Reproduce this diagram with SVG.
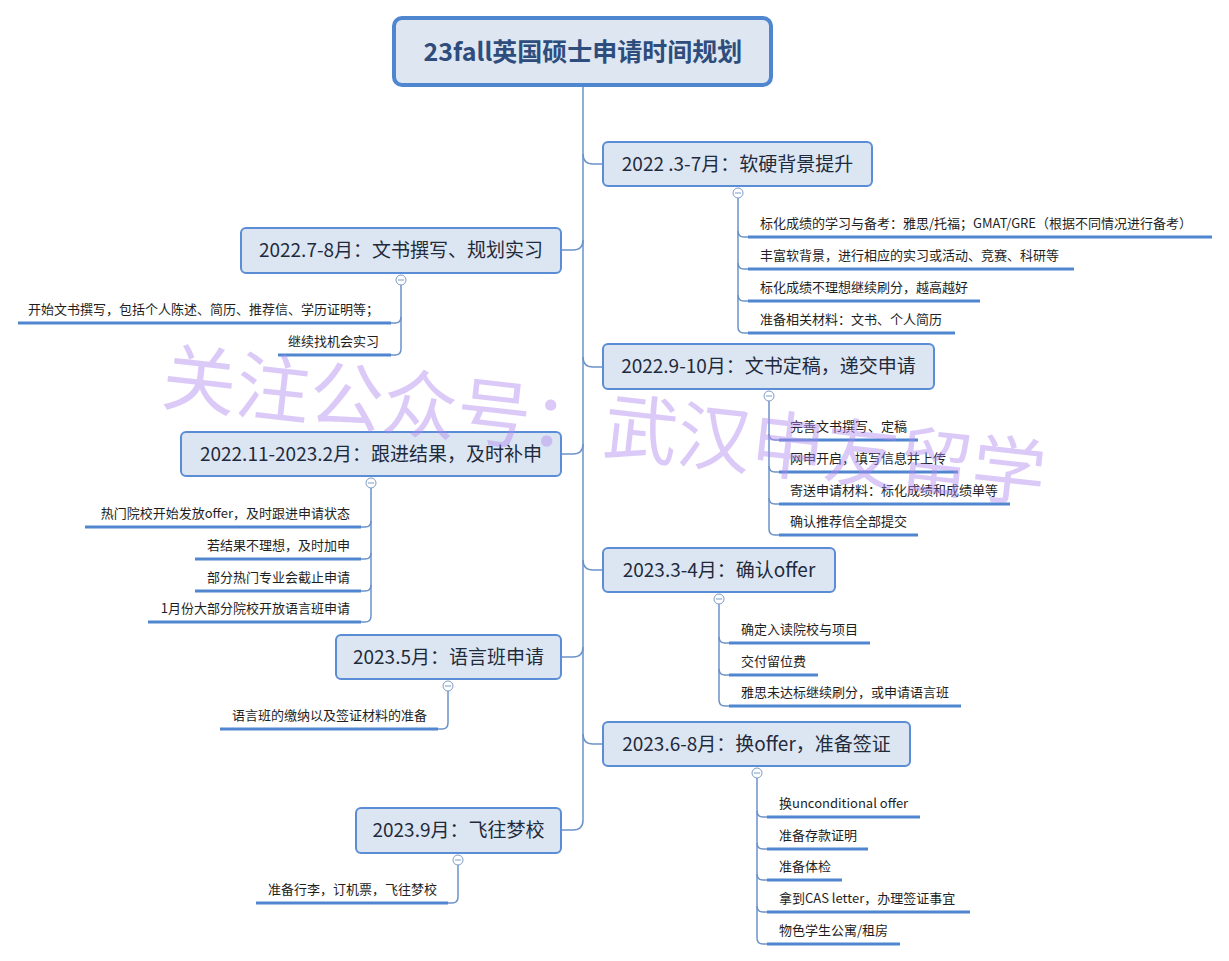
<svg xmlns="http://www.w3.org/2000/svg" width="1229" height="961" viewBox="0 0 1229 961">
<style>
.bg{fill:#ffffff}
.title-box{fill:#dde6f1;stroke:#4f86d0;stroke-width:4}
.title-txt{font-family:"Noto Sans CJK SC","Liberation Sans",sans-serif;font-size:25px;font-weight:bold;fill:#2e4d7c;text-anchor:middle}
.box{fill:#dce6f2;stroke:#5b8dd6;stroke-width:2}
.ntxt{font-family:"Noto Sans CJK SC","Liberation Sans",sans-serif;font-size:19px;fill:#1f2a3c;text-anchor:middle}
.conn{fill:none;stroke:#6b93c9;stroke-width:1.5}
.ul{stroke:#4f86cf;stroke-width:3;stroke-linecap:butt}
.ctxt{font-family:"Noto Sans CJK SC","Liberation Sans",sans-serif;font-size:13px;fill:#1e1e1e}
.end{text-anchor:end}
.mk{fill:#ffffff;stroke:#7d9cc6;stroke-width:1}
.mkl{stroke:#7d9cc6;stroke-width:1}
.wm{font-family:"Noto Sans CJK SC",sans-serif;font-size:74px;fill:#b18af0;opacity:0.45}
</style>
<rect class="bg" x="0" y="0" width="1229" height="961"/>

<g id="connectors">
  <!-- trunk -->
  <path class="conn" d="M583,86 V820 Q583,830 573,830 H561"/>
  <!-- right branches -->
  <path class="conn" d="M583,154 Q583,164 593,164 H603"/>
  <path class="conn" d="M583,357 Q583,367 593,367 H603"/>
  <path class="conn" d="M583,560 Q583,570 593,570 H603"/>
  <path class="conn" d="M583,734 Q583,744 593,744 H603"/>
  <!-- left branches -->
  <path class="conn" d="M561,250 H573 Q583,250 583,240"/>
  <path class="conn" d="M561,454 H573 Q583,454 583,444"/>
  <path class="conn" d="M561,657 H573 Q583,657 583,647"/>

  <!-- R1 children -->
  <path class="conn" d="M738,198 V327 Q738,333 744,333 H748"/>
  <path class="conn" d="M738,231 Q738,237 744,237 H748"/>
  <path class="conn" d="M738,263 Q738,269 744,269 H748"/>
  <path class="conn" d="M738,295 Q738,301 744,301 H748"/>
  <!-- R2 children -->
  <path class="conn" d="M769,401 V529 Q769,535 775,535 H779"/>
  <path class="conn" d="M769,434 Q769,440 775,440 H779"/>
  <path class="conn" d="M769,466 Q769,472 775,472 H779"/>
  <path class="conn" d="M769,498 Q769,504 775,504 H779"/>
  <!-- R3 children -->
  <path class="conn" d="M719,604 V700 Q719,706 725,706 H729"/>
  <path class="conn" d="M719,637 Q719,643 725,643 H729"/>
  <path class="conn" d="M719,669 Q719,675 725,675 H729"/>
  <!-- R4 children -->
  <path class="conn" d="M757,778 V938 Q757,944 763,944 H767"/>
  <path class="conn" d="M757,811 Q757,817 763,817 H767"/>
  <path class="conn" d="M757,843 Q757,849 763,849 H767"/>
  <path class="conn" d="M757,874 Q757,880 763,880 H767"/>
  <path class="conn" d="M757,906 Q757,912 763,912 H767"/>
  <!-- L1 children -->
  <path class="conn" d="M401,285 V349 Q401,355 395,355 H391"/>
  <path class="conn" d="M401,317 Q401,323 395,323 H391"/>
  <!-- L2 children -->
  <path class="conn" d="M371,488 V616 Q371,622 365,622 H361"/>
  <path class="conn" d="M371,521 Q371,527 365,527 H361"/>
  <path class="conn" d="M371,553 Q371,559 365,559 H361"/>
  <path class="conn" d="M371,585 Q371,591 365,591 H361"/>
  <!-- L3 child -->
  <path class="conn" d="M448,691 V723 Q448,729 442,729 H438"/>
  <!-- L4 child -->
  <path class="conn" d="M458,865 V897 Q458,903 452,903 H448"/>
</g>

<g id="title">
  <rect class="title-box" x="394" y="18" width="377" height="67" rx="8"/>
  <text class="title-txt" x="583" y="61">23fall英国硕士申请时间规划</text>
</g>

<g id="r1">
  <rect class="box" x="603" y="142" width="269" height="44" rx="5"/>
  <text class="ntxt" x="737.5" y="171">2022 .3-7月：软硬背景提升</text>
  <circle class="mk" cx="738" cy="193" r="5"/><line class="mkl" x1="735" y1="193" x2="741" y2="193"/>
  <line class="ul" x1="748" y1="237" x2="1212" y2="237"/>
  <text class="ctxt" x="760" y="228">标化成绩的学习与备考：雅思/托福；GMAT/GRE（根据不同情况进行备考）</text>
  <line class="ul" x1="748" y1="269" x2="1074" y2="269"/>
  <text class="ctxt" x="760" y="260">丰富软背景，进行相应的实习或活动、竞赛、科研等</text>
  <line class="ul" x1="748" y1="301" x2="980" y2="301"/>
  <text class="ctxt" x="760" y="292">标化成绩不理想继续刷分，越高越好</text>
  <line class="ul" x1="748" y1="333" x2="955" y2="333"/>
  <text class="ctxt" x="760" y="324">准备相关材料：文书、个人简历</text>
</g>

<g id="r2">
  <rect class="box" x="603" y="344" width="331" height="45" rx="5"/>
  <text class="ntxt" x="768.5" y="373">2022.9-10月：文书定稿，递交申请</text>
  <circle class="mk" cx="769" cy="396" r="5"/><line class="mkl" x1="766" y1="396" x2="772" y2="396"/>
  <line class="ul" x1="779" y1="440" x2="918" y2="440"/>
  <text class="ctxt" x="790" y="431">完善文书撰写、定稿</text>
  <line class="ul" x1="779" y1="472" x2="958" y2="472"/>
  <text class="ctxt" x="790" y="463">网申开启，填写信息并上传</text>
  <line class="ul" x1="779" y1="504" x2="1010" y2="504"/>
  <text class="ctxt" x="790" y="495">寄送申请材料：标化成绩和成绩单等</text>
  <line class="ul" x1="779" y1="535" x2="918" y2="535"/>
  <text class="ctxt" x="790" y="526">确认推荐信全部提交</text>
</g>

<g id="r3">
  <rect class="box" x="603" y="548" width="232" height="44" rx="5"/>
  <text class="ntxt" x="719" y="577">2023.3-4月：确认offer</text>
  <circle class="mk" cx="719" cy="599" r="5"/><line class="mkl" x1="716" y1="599" x2="722" y2="599"/>
  <line class="ul" x1="729" y1="643" x2="870" y2="643"/>
  <text class="ctxt" x="741" y="634">确定入读院校与项目</text>
  <line class="ul" x1="729" y1="675" x2="818" y2="675"/>
  <text class="ctxt" x="741" y="666">交付留位费</text>
  <line class="ul" x1="729" y1="706" x2="961" y2="706"/>
  <text class="ctxt" x="741" y="697">雅思未达标继续刷分，或申请语言班</text>
</g>

<g id="r4">
  <rect class="box" x="603" y="722" width="307" height="44" rx="5"/>
  <text class="ntxt" x="756.5" y="751">2023.6-8月：换offer，准备签证</text>
  <circle class="mk" cx="757" cy="773" r="5"/><line class="mkl" x1="754" y1="773" x2="760" y2="773"/>
  <line class="ul" x1="767" y1="817" x2="920" y2="817"/>
  <text class="ctxt" x="779" y="808">换unconditional offer</text>
  <line class="ul" x1="767" y1="849" x2="868" y2="849"/>
  <text class="ctxt" x="779" y="840">准备存款证明</text>
  <line class="ul" x1="767" y1="880" x2="842" y2="880"/>
  <text class="ctxt" x="779" y="871">准备体检</text>
  <line class="ul" x1="767" y1="912" x2="970" y2="912"/>
  <text class="ctxt" x="779" y="903">拿到CAS letter，办理签证事宜</text>
  <line class="ul" x1="767" y1="944" x2="900" y2="944"/>
  <text class="ctxt" x="779" y="935">物色学生公寓/租房</text>
</g>

<g id="l1">
  <rect class="box" x="241" y="228" width="320" height="45" rx="5"/>
  <text class="ntxt" x="401" y="257">2022.7-8月：文书撰写、规划实习</text>
  <circle class="mk" cx="401" cy="280" r="5"/><line class="mkl" x1="398" y1="280" x2="404" y2="280"/>
  <line class="ul" x1="18" y1="323" x2="391" y2="323"/>
  <text class="ctxt end" x="379" y="314">开始文书撰写，包括个人陈述、简历、推荐信、学历证明等；</text>
  <line class="ul" x1="278" y1="355" x2="391" y2="355"/>
  <text class="ctxt end" x="379" y="346">继续找机会实习</text>
</g>

<g id="l2">
  <rect class="box" x="181" y="432" width="380" height="44" rx="5"/>
  <text class="ntxt" x="371" y="461">2022.11-2023.2月：跟进结果，及时补申</text>
  <circle class="mk" cx="371" cy="483" r="5"/><line class="mkl" x1="368" y1="483" x2="374" y2="483"/>
  <line class="ul" x1="85" y1="527" x2="361" y2="527"/>
  <text class="ctxt end" x="350" y="518">热门院校开始发放offer，及时跟进申请状态</text>
  <line class="ul" x1="195" y1="559" x2="361" y2="559"/>
  <text class="ctxt end" x="350" y="550">若结果不理想，及时加申</text>
  <line class="ul" x1="195" y1="591" x2="361" y2="591"/>
  <text class="ctxt end" x="350" y="582">部分热门专业会截止申请</text>
  <line class="ul" x1="148" y1="622" x2="361" y2="622"/>
  <text class="ctxt end" x="350" y="613">1月份大部分院校开放语言班申请</text>
</g>

<g id="l3">
  <rect class="box" x="336" y="635" width="225" height="44" rx="5"/>
  <text class="ntxt" x="448.5" y="664">2023.5月：语言班申请</text>
  <circle class="mk" cx="448" cy="686" r="5"/><line class="mkl" x1="445" y1="686" x2="451" y2="686"/>
  <line class="ul" x1="220" y1="729" x2="438" y2="729"/>
  <text class="ctxt end" x="427" y="720">语言班的缴纳以及签证材料的准备</text>
</g>

<g id="l4">
  <rect class="box" x="356" y="808" width="205" height="45" rx="5"/>
  <text class="ntxt" x="458.5" y="837">2023.9月：飞往梦校</text>
  <circle class="mk" cx="458" cy="860" r="5"/><line class="mkl" x1="455" y1="860" x2="461" y2="860"/>
  <line class="ul" x1="256" y1="903" x2="448" y2="903"/>
  <text class="ctxt end" x="437" y="894">准备行李，订机票，飞往梦校</text>
</g>

<text class="wm" x="160" y="403" transform="rotate(6.4 160 403)">关注公众号：武汉申友留学</text>
</svg>
